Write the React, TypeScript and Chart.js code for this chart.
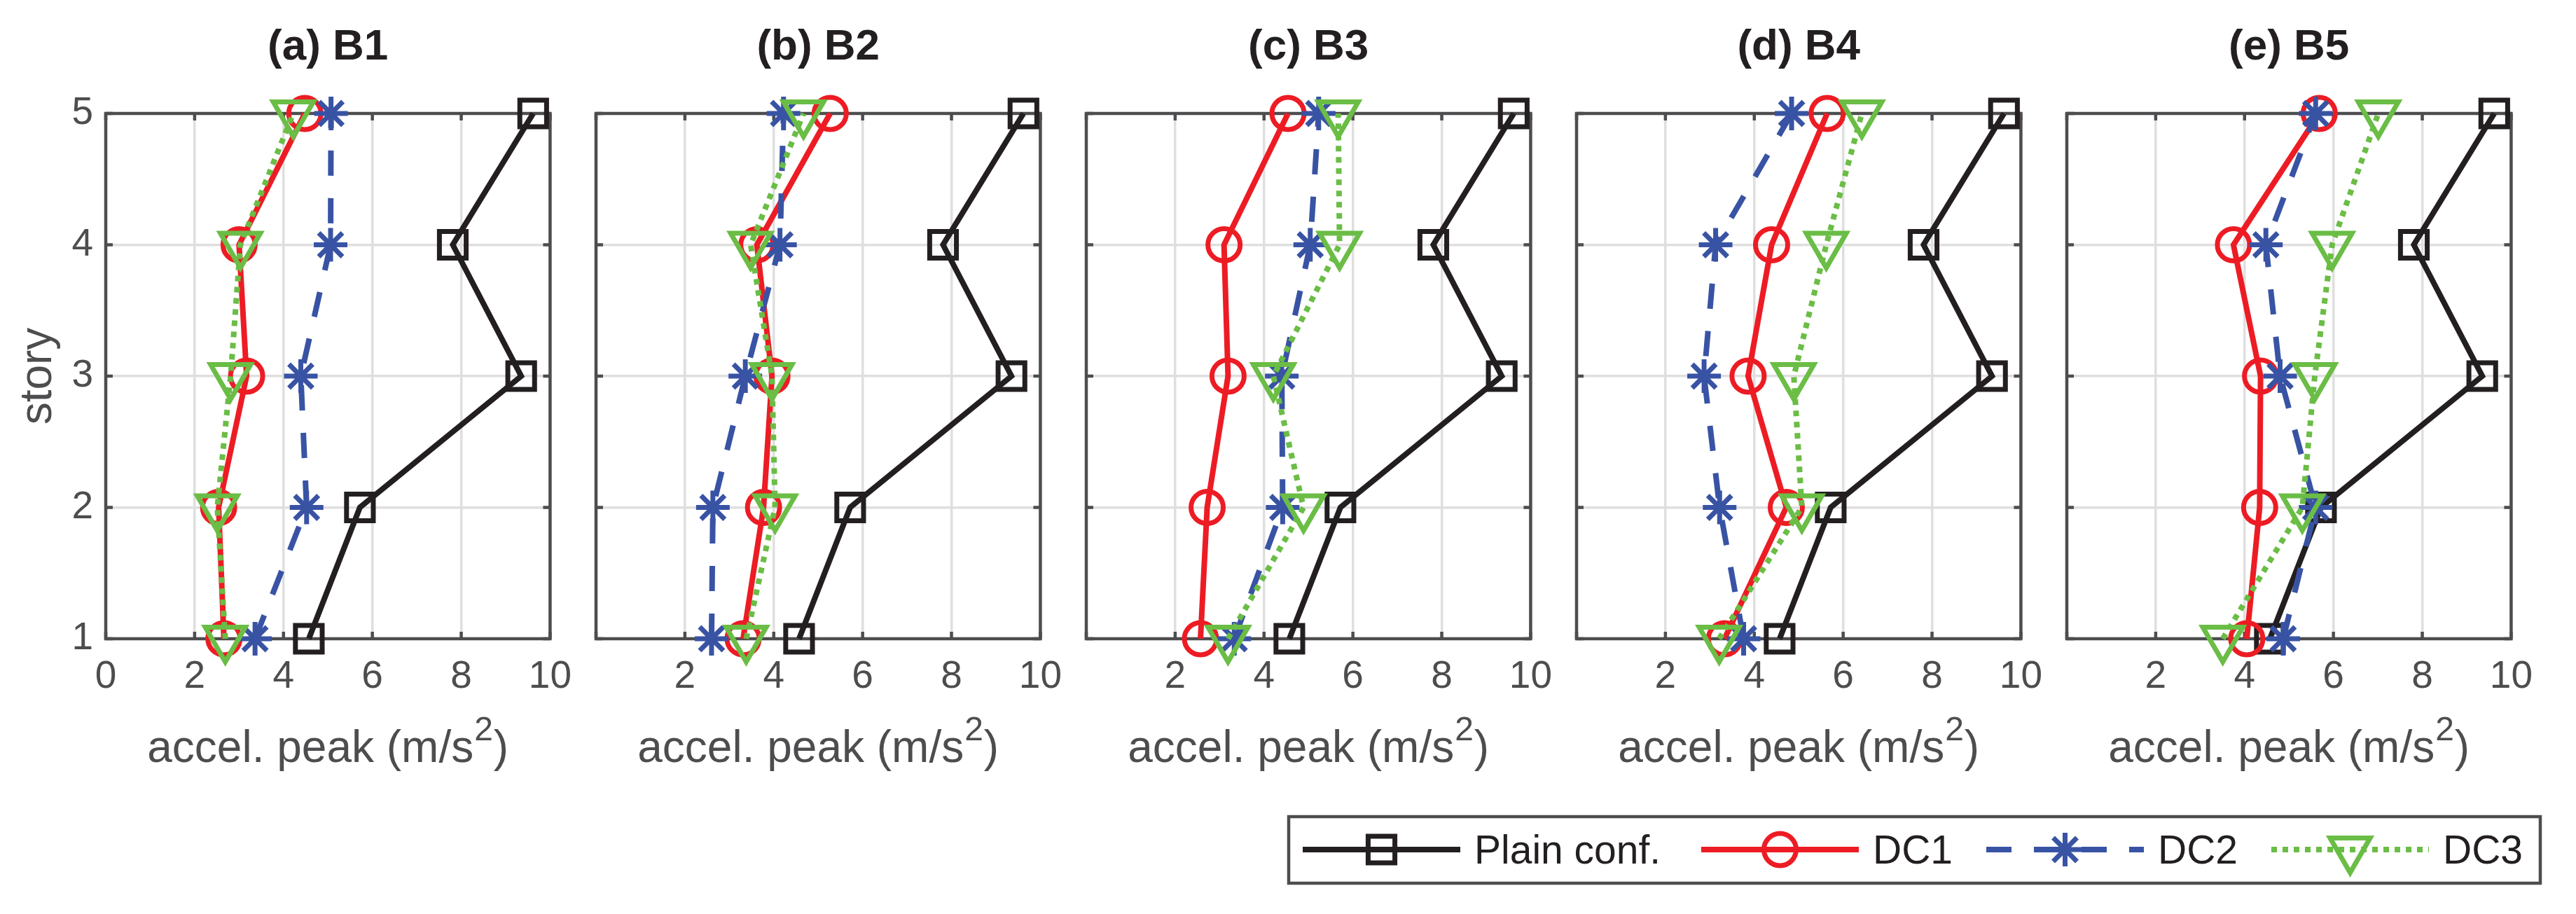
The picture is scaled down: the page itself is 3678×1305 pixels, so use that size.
import React, { useEffect, useRef } from 'react';
import { Chart, registerables } from 'chart.js';
import { drawPoint } from 'chart.js/helpers';

Chart.register(...registerables);

// ---------------- data ----------------
const stories = [1, 2, 3, 4, 5];
const panelTitles = ['(a) B1', '(b) B2', '(c) B3', '(d) B4', '(e) B5'];
const seriesNames = ['Plain conf.', 'DC1', 'DC2', 'DC3'];
const xTickValues = [0, 2, 4, 6, 8, 10];
const yTickValues = [1, 2, 3, 4, 5];
const xAxisLabel = ['accel. peak (m/s', '2', ')'];
const yAxisLabel = 'story';

// peak acceleration (m/s^2) for stories 1..5, one row per panel B1..B5
const plainConf = [
  [4.57, 5.72, 9.35, 7.81, 9.62],
  [4.57, 5.72, 9.35, 7.81, 9.62],
  [4.57, 5.72, 9.35, 7.81, 9.62],
  [4.57, 5.72, 9.35, 7.81, 9.62],
  [4.57, 5.72, 9.35, 7.81, 9.62],
];
const dc1 = [
  [2.66, 2.54, 3.17, 3.0, 4.48],
  [3.31, 3.77, 3.96, 3.62, 5.27],
  [2.57, 2.72, 3.19, 3.1, 4.54],
  [3.33, 4.72, 3.86, 4.39, 5.64],
  [4.05, 4.34, 4.36, 3.75, 5.68],
];
const dc2 = [
  [3.36, 4.52, 4.39, 5.06, 5.07],
  [2.6, 2.63, 3.36, 4.14, 4.22],
  [3.33, 4.42, 4.4, 5.04, 5.23],
  [3.76, 3.22, 2.87, 3.13, 4.84],
  [4.87, 5.6, 4.8, 4.48, 5.6],
];
const dc3 = [
  [2.69, 2.51, 2.81, 3.03, 4.22],
  [3.38, 4.03, 3.96, 3.48, 4.67],
  [3.19, 4.89, 4.21, 5.7, 5.67],
  [3.21, 5.07, 4.89, 5.62, 6.42],
  [3.51, 5.3, 5.58, 5.97, 7.01],
];
const seriesValues = [plainConf, dc1, dc2, dc3];

// ---------------- styles ----------------
const FAMILY = '"Liberation Sans", Arial, Helvetica, sans-serif';
const AXIS_COLOR = '#4d4d4f';
const TEXT_GRAY = '#4d4d4f';
const TEXT_DARK = '#231f20';
const GRID_COLOR = '#dfdfdf';

const seriesStyles = [
  { color: '#231f20', pointStyle: 'rect', radius: 27, rotation: 0, dash: [] as number[], width: 8 },
  { color: '#ed1c24', pointStyle: 'circle', radius: 23, rotation: 0, dash: [] as number[], width: 8 },
  { color: '#3953a4', pointStyle: 'star', radius: 24, rotation: 0, dash: [36, 32], width: 8 },
  { color: '#6abd45', pointStyle: 'triangle', radius: 33, rotation: 180, dash: [8, 8], width: 8 },
];
const MARKER_STROKE = 7;

const PANEL_PITCH = 700;
const PLOT_LEFT = 151;
const PLOT_WIDTH = 647;
const PLOT_TOP = 162;
const PLOT_BOTTOM = 912;
const PAD_RIGHT = 40;
const CANVAS_W = PLOT_LEFT + PLOT_WIDTH + PAD_RIGHT;
const CANVAS_H = 1110;
const TICK_LEN = 10;

const boxPlugin = {
  id: 'matlabBox',
  beforeDatasetsDraw(chart: any) {
    const { ctx, chartArea } = chart;
    const { left, right, top, bottom } = chartArea;
    const xs = chart.scales.x;
    const ys = chart.scales.y;
    ctx.save();
    ctx.strokeStyle = AXIS_COLOR;
    ctx.lineWidth = 4.5;
    ctx.setLineDash([]);
    ctx.beginPath();
    xTickValues.forEach((v) => {
      const px = xs.getPixelForValue(v);
      ctx.moveTo(px, bottom);
      ctx.lineTo(px, bottom - TICK_LEN);
      ctx.moveTo(px, top);
      ctx.lineTo(px, top + TICK_LEN);
    });
    yTickValues.forEach((v) => {
      const py = ys.getPixelForValue(v);
      ctx.moveTo(left, py);
      ctx.lineTo(left + TICK_LEN, py);
      ctx.moveTo(right, py);
      ctx.lineTo(right - TICK_LEN, py);
    });
    ctx.stroke();
    ctx.strokeRect(left, top, right - left, bottom - top);
    ctx.restore();
  },
};

// panel title (centred on the plot area) and x-axis label with a true superscript
const panelTextPlugin = {
  id: 'panelText',
  afterDraw(chart: any, _args: any, opts: any) {
    const { ctx, chartArea } = chart;
    const cx = (chartArea.left + chartArea.right) / 2;
    ctx.save();
    ctx.font = `bold 62px ${FAMILY}`;
    ctx.fillStyle = TEXT_DARK;
    ctx.textAlign = 'center';
    ctx.textBaseline = 'middle';
    ctx.fillText(opts.text, cx, 67.5);

    // x-axis label
    const mainFont = `64px ${FAMILY}`;
    const supFont = `48px ${FAMILY}`;
    ctx.fillStyle = TEXT_GRAY;
    ctx.textAlign = 'left';
    ctx.textBaseline = 'alphabetic';
    ctx.font = mainFont;
    const w0 = ctx.measureText(xAxisLabel[0]).width;
    const w2 = ctx.measureText(xAxisLabel[2]).width;
    ctx.font = supFont;
    const w1 = ctx.measureText(xAxisLabel[1]).width;
    const total = w0 + w1 + w2 + 2;
    let x = cx - total / 2;
    const base = 1088;
    ctx.font = mainFont;
    ctx.fillText(xAxisLabel[0], x, base);
    x += w0 + 1;
    ctx.font = supFont;
    ctx.fillText(xAxisLabel[1], x, base - 31);
    x += w1 + 1;
    ctx.font = mainFont;
    ctx.fillText(xAxisLabel[2], x, base);
    ctx.restore();
  },
};

function makeDatasets(panel: number) {
  return seriesStyles.map((s, k) => ({
    label: seriesNames[k],
    data: stories.map((st, j) => ({ x: seriesValues[k][panel][j], y: st })),
    borderColor: s.color,
    borderWidth: s.width,
    borderDash: s.dash,
    borderCapStyle: 'butt',
    pointStyle: s.pointStyle,
    pointRadius: s.radius,
    pointHoverRadius: s.radius,
    pointRotation: s.rotation,
    pointBorderColor: s.color,
    pointBackgroundColor: 'rgba(0,0,0,0)',
    pointBorderWidth: MARKER_STROKE,
    fill: false,
    tension: 0,
    clip: false,
    order: 4 - k,
  }));
}

function Panel({ index }: { index: number }) {
  const ref = useRef<HTMLCanvasElement>(null);
  useEffect(() => {
    const first = index === 0;
    const chart = new Chart(ref.current as HTMLCanvasElement, {
      type: 'line',
      data: { datasets: makeDatasets(index) as any },
      options: {
        animation: false,
        responsive: false,
        events: [],
        layout: { padding: { left: 0, right: PAD_RIGHT, top: PLOT_TOP, bottom: 0 } },
        plugins: {
          legend: { display: false },
          tooltip: { enabled: false },
          title: { display: false },
          panelText: { text: panelTitles[index] },
        },
        scales: {
          x: {
            type: 'linear',
            min: 0,
            max: 10,
            grid: { color: GRID_COLOR, lineWidth: 3.5, drawTicks: false },
            border: { display: false },
            ticks: {
              stepSize: 2,
              autoSkip: false,
              maxRotation: 0,
              padding: 22,
              color: TEXT_GRAY,
              font: { family: FAMILY, size: 55 },
              callback: (v: any) => (index > 0 && Number(v) === 0 ? '' : String(v)),
            },
            title: { display: false },
            afterFit: (s: any) => {
              s.height = CANVAS_H - PLOT_BOTTOM;
            },
          },
          y: {
            type: 'linear',
            min: 1,
            max: 5,
            grid: { color: GRID_COLOR, lineWidth: 3.5, drawTicks: false },
            border: { display: false },
            ticks: {
              stepSize: 1,
              display: first,
              padding: 18,
              color: TEXT_GRAY,
              font: { family: FAMILY, size: 55 },
            },
            title: {
              display: first,
              text: yAxisLabel,
              color: TEXT_GRAY,
              font: { family: FAMILY, size: 64 },
              padding: { top: 17, bottom: 0 },
            },
            afterFit: (s: any) => {
              s.width = PLOT_LEFT;
            },
          },
        },
      } as any,
      plugins: [boxPlugin, panelTextPlugin],
    });
    return () => chart.destroy();
  }, [index]);
  return (
    <canvas
      ref={ref}
      width={CANVAS_W}
      height={CANVAS_H}
      style={{ position: 'absolute', left: PANEL_PITCH * index, top: 0, width: CANVAS_W, height: CANVAS_H }}
    />
  );
}

const LEG_LEFT = 1820;
const LEG_TOP = 1150;
const LEG_W = 1830;
const LEG_H = 130;
const legendSampleStarts = [1860, 2429, 2836, 3243];

const legendPlugin = {
  id: 'boxLegend',
  afterDraw(chart: any) {
    const { ctx } = chart;
    const ds = chart.data.datasets;
    ctx.save();
    ctx.strokeStyle = AXIS_COLOR;
    ctx.lineWidth = 4.5;
    ctx.setLineDash([]);
    ctx.strokeRect(1840 - LEG_LEFT, 1166 - LEG_TOP, 3627 - 1840, 1261 - 1166);
    const lineY = 1213 - LEG_TOP;
    const textY = 1217 - LEG_TOP;
    ctx.font = `57px ${FAMILY}`;
    ds.forEach((d: any, k: number) => {
      const s = seriesStyles[k];
      const start = legendSampleStarts[k] - LEG_LEFT;
      const sampleLen = 225;
      ctx.strokeStyle = s.color;
      ctx.lineWidth = s.width;
      ctx.lineCap = 'butt';
      ctx.setLineDash(s.dash);
      ctx.beginPath();
      ctx.moveTo(start, lineY);
      ctx.lineTo(start + sampleLen, lineY);
      ctx.stroke();
      ctx.setLineDash([]);
      ctx.fillStyle = 'rgba(0,0,0,0)';
      ctx.lineWidth = MARKER_STROKE;
      drawPoint(ctx, { pointStyle: s.pointStyle, radius: s.radius, rotation: s.rotation, borderWidth: MARKER_STROKE } as any, start + sampleLen / 2, lineY);
      ctx.fillStyle = TEXT_DARK;
      ctx.textAlign = 'left';
      ctx.textBaseline = 'middle';
      ctx.fillText(d.label, start + sampleLen + 20, textY);
    });
    ctx.restore();
  },
};

function Legend() {
  const ref = useRef<HTMLCanvasElement>(null);
  useEffect(() => {
    const chart = new Chart(ref.current as HTMLCanvasElement, {
      type: 'line',
      data: {
        datasets: seriesNames.map((n, k) => ({ label: n, data: [], borderColor: seriesStyles[k].color })),
      },
      options: {
        animation: false,
        responsive: false,
        events: [],
        plugins: { legend: { display: false }, tooltip: { enabled: false }, title: { display: false } },
        scales: { x: { display: false }, y: { display: false } },
      } as any,
      plugins: [legendPlugin],
    });
    return () => chart.destroy();
  }, []);
  return (
    <canvas
      ref={ref}
      width={LEG_W}
      height={LEG_H}
      style={{ position: 'absolute', left: LEG_LEFT, top: LEG_TOP, width: LEG_W, height: LEG_H }}
    />
  );
}

export default function App() {
  return (
    <div style={{ position: 'absolute', left: 0, top: 0, width: 3678, height: 1305, background: '#ffffff', overflow: 'hidden' }}>
      {panelTitles.map((_, i) => (
        <Panel key={i} index={i} />
      ))}
      <Legend />
    </div>
  );
}
